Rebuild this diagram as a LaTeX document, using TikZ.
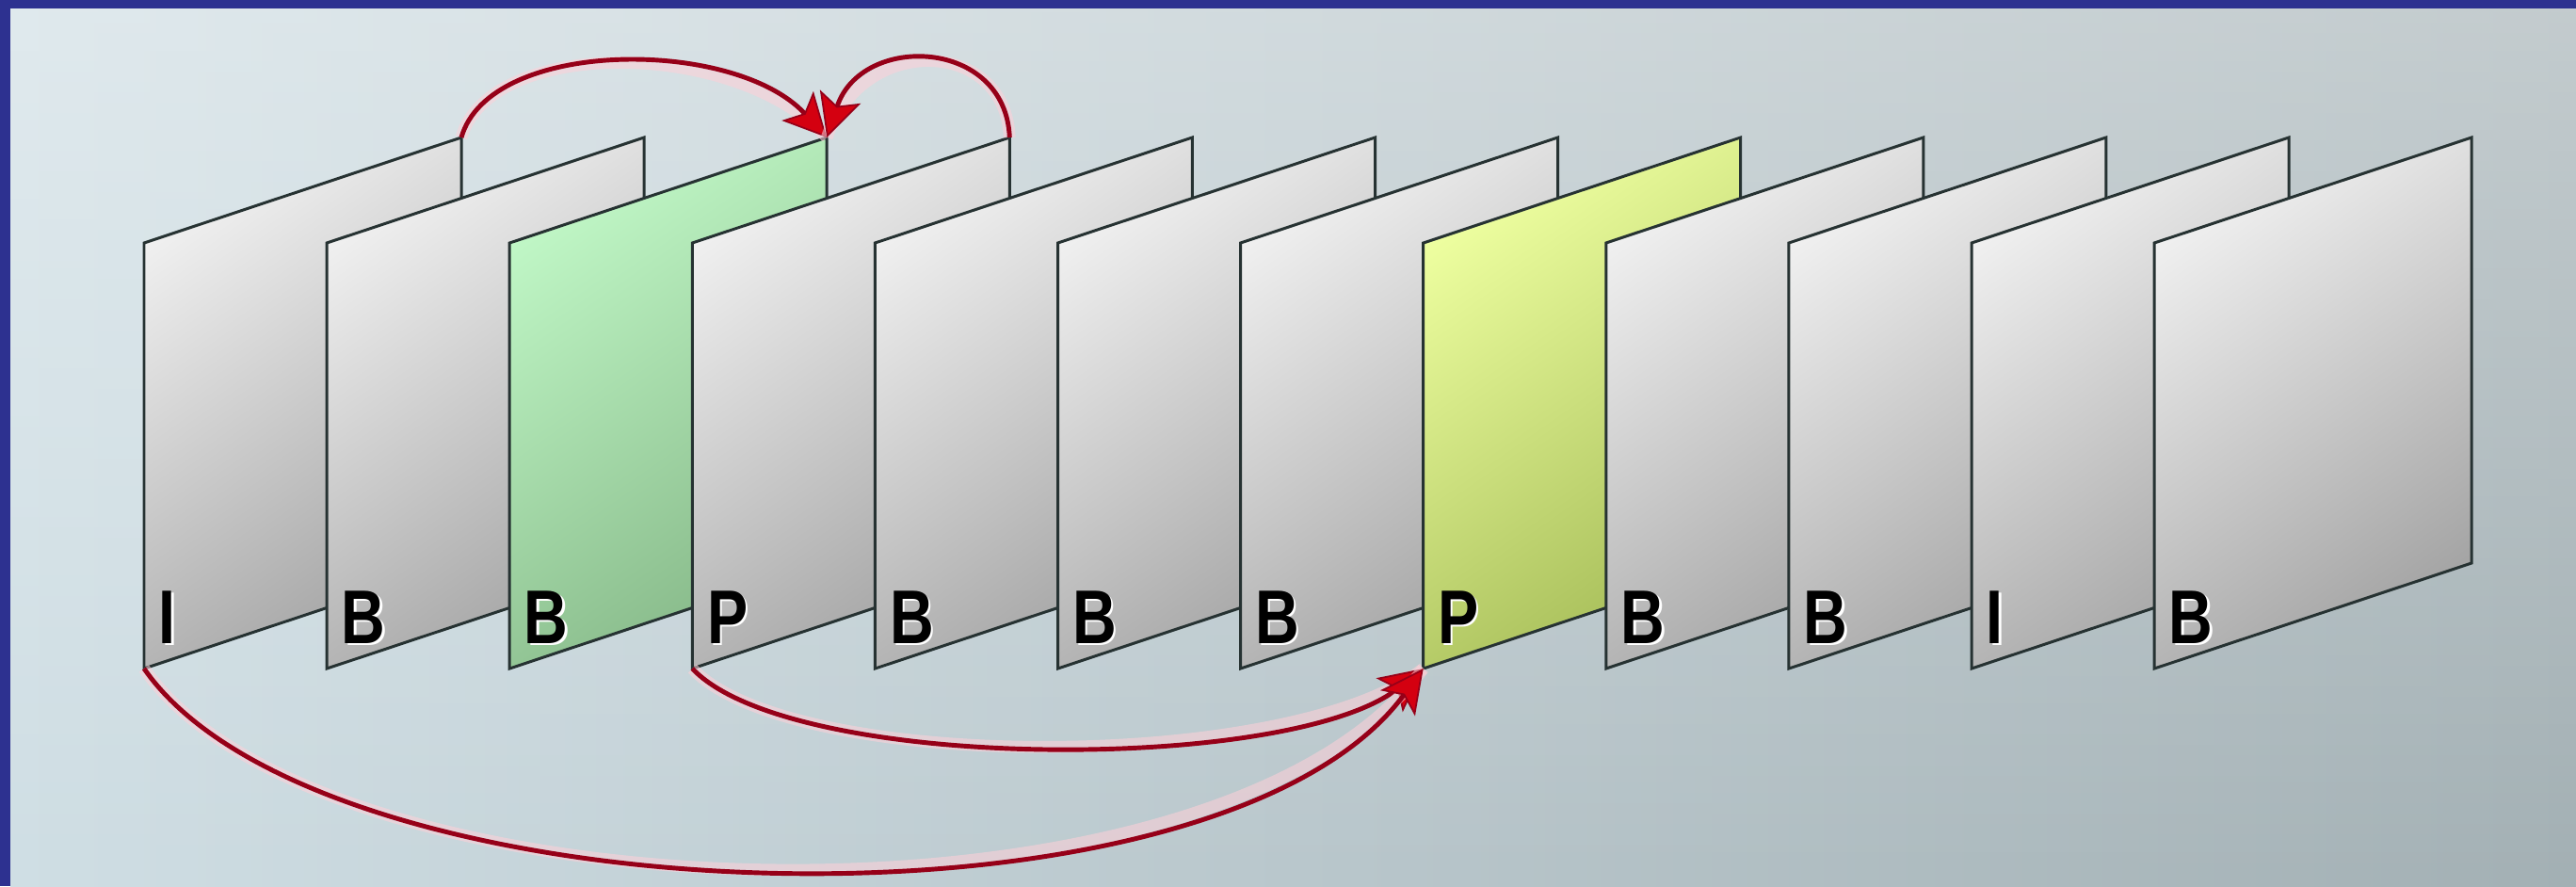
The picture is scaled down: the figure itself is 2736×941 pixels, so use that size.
\documentclass[tikz,border=0pt]{standalone}
\usepackage{fontspec}
\setmainfont{Liberation Sans}
\usetikzlibrary{arrows.meta,fadings}
\definecolor{bgblue}{HTML}{2D3190}
\definecolor{bgL}{HTML}{CFDEE4}
\definecolor{bgR}{HTML}{A3B0B4}
\definecolor{frameline}{HTML}{263232}
\definecolor{grayA}{HTML}{F0F0F0}
\definecolor{grayB}{HTML}{A4A4A4}
\definecolor{greenA}{HTML}{C0F7C6}
\definecolor{greenB}{HTML}{86B888}
\definecolor{yelA}{HTML}{EEFFA0}
\definecolor{yelB}{HTML}{A6BD58}
\definecolor{arrowred}{HTML}{960018}
\definecolor{tipred}{HTML}{D40010}
\definecolor{haloc}{HTML}{FFD0D8}
\begin{document}
\begin{tikzpicture}[x=0.01cm,y=-0.01cm,
  framebox/.style={draw=frameline, line width=0.85pt, line join=miter},
  gray frame/.style={framebox, top color=grayA, bottom color=grayB, shading angle=35},
  green frame/.style={framebox, top color=greenA, bottom color=greenB, shading angle=35},
  yel frame/.style={framebox, top color=yelA, bottom color=yelB, shading angle=35},
  lab/.style={anchor=base west, inner sep=0pt, font=\fontsize{23}{23}\selectfont\bfseries},
  refarrow/.style={draw=arrowred, line width=1.4pt,
    preaction={draw=haloc, line width=3.6pt, opacity=0.55, -},
    -{Stealth[length=13pt,width=13pt,inset=3pt,fill=tipred,color=arrowred,line width=0.5pt]}}
]
\useasboundingbox (0,0) rectangle (2736,941);
% background
\fill[bgblue] (0,0) rectangle (2736,941);
\shade[left color=bgL, right color=bgR] (11,9) rectangle (2736,941);
\fill[white, path fading=south, opacity=0.35] (11,9) rectangle (2736,941);
% frames
\foreach \i/\t/\c in {1/I/gray,2/B/gray,3/B/green,4/P/gray,5/B/gray,6/B/gray,7/B/gray,8/P/yel,9/B/gray,10/B/gray,11/I/gray,12/B/gray}{
  \pgfmathsetmacro\xl{153+194.1*(\i-1)}
  \coordinate (f\i-tl) at (\xl,258);
  \coordinate (f\i-tr) at (\xl+337,146);
  \coordinate (f\i-br) at (\xl+337,598);
  \coordinate (f\i-bl) at (\xl,710);
  \path[\c\space frame] (f\i-tl) -- (f\i-tr) -- (f\i-br) -- (f\i-bl) -- cycle;
  \node[lab, white] at (\xl+17.5,685.5) {\scalebox{0.8}[1]{\t}};
  \node[lab] (l\i) at (\xl+15,683) {\scalebox{0.8}[1]{\t}};
}
% arrows
\draw[refarrow] (f1-tr) .. controls (520,40) and (780,40) .. (f3-tr);
\draw[refarrow] (f4-tr) .. controls (1068,40) and (915,35) .. (f3-tr);
\draw[refarrow] (f4-bl) .. controls (840,821) and (1370,821) .. (f8-bl);
\draw[refarrow] (f1-bl) .. controls (340,980) and (1290,1010) .. (f8-bl);
\end{tikzpicture}
\end{document}
